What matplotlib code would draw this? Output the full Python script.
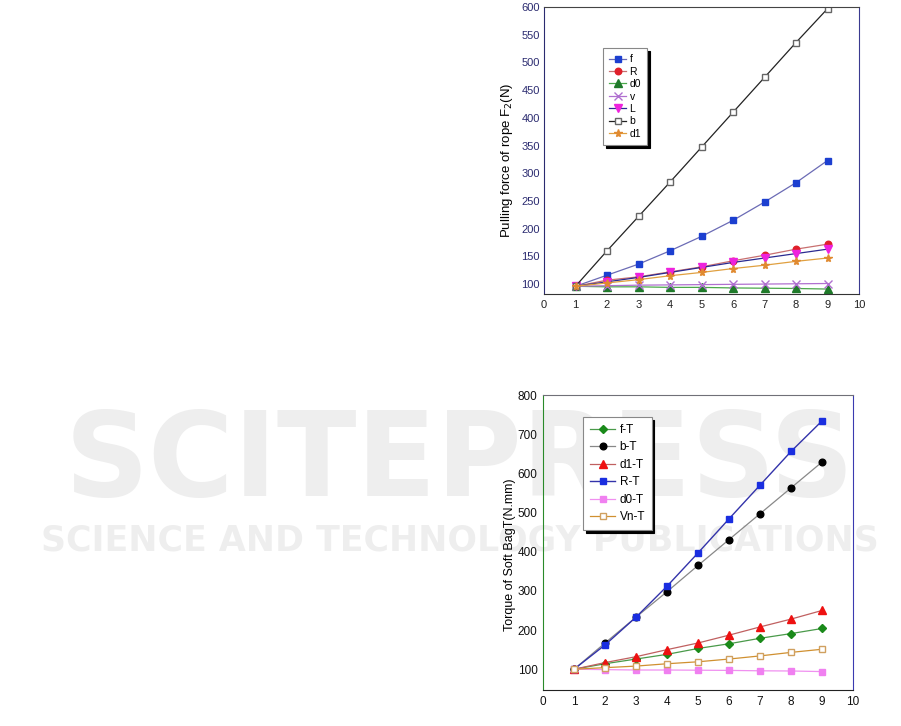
import numpy as np
import matplotlib.pyplot as plt

plt.rcParams['font.family'] = ['Liberation Sans', 'DejaVu Sans']

x = [1, 2, 3, 4, 5, 6, 7, 8, 9]

# top chart: pulling force of rope F2 (N)
f_top = [96, 116, 136, 160, 186, 215, 248, 283, 323]
R_top = [96, 107, 113, 122, 131, 142, 152, 163, 172]
d0_top = [96, 95, 95, 94, 94, 93, 92.5, 92, 91]
v_top = [96, 97, 98, 98.5, 99, 99.5, 100, 100.5, 101]
L_top = [96, 104, 112, 121, 130, 139, 147, 155, 163]
b_top = [96, 160, 222, 284, 347, 410, 473, 536, 597]
d1_top = [96, 102, 108, 115, 121, 128, 134, 141, 147]

# bottom chart: torque of soft bag T (N.mm)
fT = [100, 114, 126, 138, 153, 165, 179, 191, 204]
bT = [100, 167, 233, 298, 365, 431, 497, 563, 629]
d1T = [100, 117, 132, 150, 167, 187, 208, 228, 250]
RT = [100, 162, 233, 312, 397, 484, 570, 656, 734]
d0T = [100, 99, 98, 98, 97.5, 97, 96, 95.5, 94]
VnT = [100, 104, 108, 114, 119, 126, 134, 143, 151]

fig = plt.figure(figsize=(9.01, 7.26), dpi=100)

# faint publisher watermark behind the charts
wm = '#eeeeee'
fig.text(0.51, 0.362, 'SCITEPRESS', ha='center', va='center', fontsize=84,
         fontweight='bold', color=wm, family='DejaVu Sans', zorder=-5)
fig.text(0.51, 0.255, 'SCIENCE AND TECHNOLOGY PUBLICATIONS', ha='center', va='center',
         fontsize=25, fontweight='bold', color=wm, family='DejaVu Sans', zorder=-5)

navy = '#2b2b70'

ax1 = fig.add_axes([0.6038, 0.595, 0.3496, 0.3953])
ax1.set_facecolor('none')
ms = 4.2
ax1.plot(x, f_top, color='#6b6bb5', lw=0.9, marker='s', ms=ms, mfc='#1c3fd0', mec='#1c3fd0', label='f')
ax1.plot(x, R_top, color='#c87070', lw=0.9, marker='o', ms=ms + 0.5, mfc='#e0202a', mec='#e0202a', label='R')
ax1.plot(x, d0_top, color='#4aa84a', lw=0.9, marker='^', ms=ms + 1, mfc='#1f7a2a', mec='#1f7a2a', label='d0')
ax1.plot(x, v_top, color='#b070d0', lw=0.9, marker='x', ms=ms + 1, mec='#b070d0', label='v')
ax1.plot(x, L_top, color='#2a2a90', lw=0.9, marker='v', ms=ms + 1, mfc='#ee22dd', mec='#ee22dd', label='L')
ax1.plot(x, b_top, color='#222222', lw=0.9, marker='s', ms=ms + 0.6, mfc='white', mec='#666666', label='b')
ax1.plot(x, d1_top, color='#e0a040', lw=0.9, marker='*', ms=ms + 1.5, mfc='#e08a30', mec='#e08a30', label='d1')
ax1.set_xlim(0, 10)
ax1.set_ylim(82, 600)
ax1.set_xticks(range(0, 11))
ax1.set_yticks(range(100, 601, 50))
ax1.spines['top'].set_color('#444444')
ax1.spines['right'].set_color('#3a3a90')
ax1.spines['left'].set_color(navy)
ax1.spines['bottom'].set_color('#333333')
ax1.tick_params(axis='y', colors=navy, labelsize=8, length=0, pad=3)
ax1.tick_params(axis='x', colors='#222222', labelsize=8, length=0, pad=4)
ax1.set_ylabel('Pulling force of rope F$_2$(N)', fontsize=9.5)
ax1.yaxis.set_label_coords(-0.092, 0.467)
leg1 = ax1.legend(loc='upper left', bbox_to_anchor=(0.187, 0.857), fontsize=7.5,
                  frameon=True, fancybox=False, shadow={'color': 'black', 'alpha': 1},
                  handlelength=1.6, handletextpad=0.35, labelspacing=0.23,
                  borderpad=0.6, borderaxespad=0)
leg1.get_frame().set_edgecolor('#888888')
leg1.get_frame().set_linewidth(0.8)

ax2 = fig.add_axes([0.6027, 0.0496, 0.3441, 0.4063])
ax2.set_facecolor('none')
ax2.plot(x, fT, color='#4a9a4a', lw=0.9, marker='D', ms=4.2, mfc='#1a8a1a', mec='#1a8a1a', label='f-T')
ax2.plot(x, bT, color='#888888', lw=0.9, marker='o', ms=4.8, mfc='black', mec='black', label='b-T')
ax2.plot(x, d1T, color='#c06060', lw=0.9, marker='^', ms=5.5, mfc='#ee1111', mec='#ee1111', label='d1-T')
ax2.plot(x, RT, color='#3333aa', lw=1.0, marker='s', ms=4.8, mfc='#1a2ee0', mec='#1a2ee0', label='R-T')
ax2.plot(x, d0T, color='#f090f0', lw=0.9, marker='s', ms=4.5, mfc='#f080f0', mec='#f080f0', label='d0-T')
ax2.plot(x, VnT, color='#d09030', lw=0.9, marker='s', ms=5, mfc='white', mec='#d0a060', label='Vn-T')
ax2.set_xlim(0, 10)
ax2.set_ylim(47, 800)
ax2.set_xticks(range(0, 11))
ax2.set_yticks(range(100, 801, 100))
ax2.spines['left'].set_color('#2a8a2a')
ax2.spines['right'].set_color('#3a3ab0')
ax2.spines['top'].set_color('#707078')
ax2.spines['bottom'].set_color('#222222')
ax2.tick_params(axis='both', colors='#111111', labelsize=8.5, length=0, pad=4)
ax2.set_ylabel('Torque of Soft BagT(N.mm)', fontsize=9)
ax2.yaxis.set_label_coords(-0.087, 0.459)
leg2 = ax2.legend(loc='upper left', bbox_to_anchor=(0.129, 0.925), fontsize=8.5,
                  frameon=True, fancybox=False, shadow={'color': 'black', 'alpha': 1},
                  handlelength=2.2, handletextpad=0.35, labelspacing=0.47,
                  borderpad=0.55, borderaxespad=0)
leg2.get_frame().set_edgecolor('#888888')
leg2.get_frame().set_linewidth(0.8)

plt.savefig('out.png', dpi=100)
